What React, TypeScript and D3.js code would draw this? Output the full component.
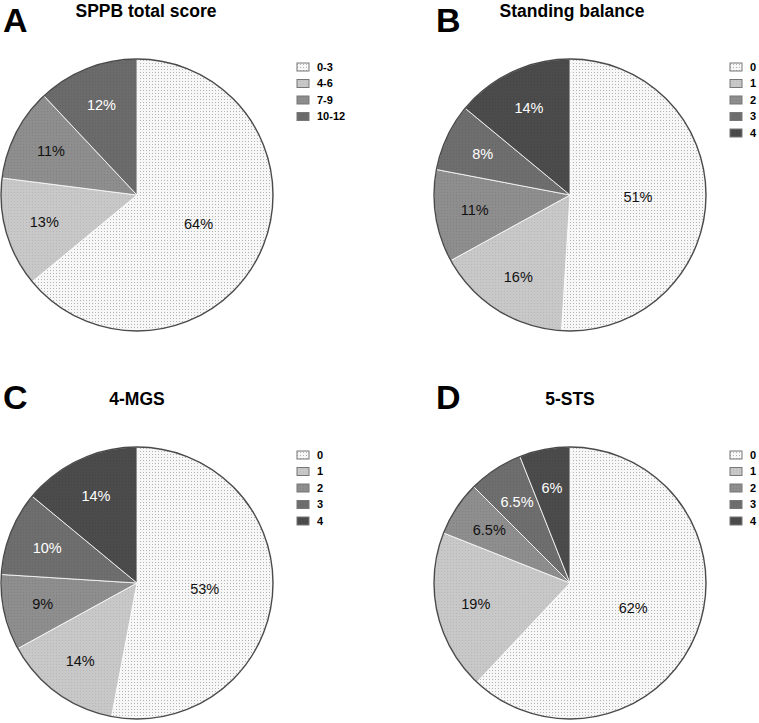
import React from 'react';
import * as d3 from 'd3';

// panel texts
const panelLetters = ['A', 'B', 'C', 'D'];
const panelTitles = ['SPPB total score', 'Standing balance', '4-MGS', '5-STS'];

// categories
const sppbCategories = ['0-3', '4-6', '7-9', '10-12'];
const componentCategories = ['0', '1', '2', '3', '4'];

// percentages (clockwise from 12 o'clock)
const sppbValues = [64, 13, 11, 12];
const balanceValues = [51, 16, 11, 8, 14];
const gaitValues = [53, 14, 9, 10, 14];
const chairValues = [62, 19, 6.5, 6.5, 6];

const sppbColors = ['#f7f7f7', '#c8c8c8', '#8e8e8e', '#6b6b6b'];
const componentColors = ['#f7f7f7', '#c8c8c8', '#8e8e8e', '#6e6e6e', '#4b4b4b'];

const W = 759;
const H = 723;
const R = 136;
const FONT = '"Liberation Sans", Arial, Helvetica, sans-serif';

const panels = [
  { cx: 137, cy: 195, letterY: 32, titleDx: 9, cats: sppbCategories, values: sppbValues, colors: sppbColors },
  { cx: 570, cy: 195, letterY: 32, titleDx: 2, cats: componentCategories, values: balanceValues, colors: componentColors },
  { cx: 137, cy: 583, letterY: 409, titleDx: 0, cats: componentCategories, values: gaitValues, colors: componentColors },
  { cx: 570, cy: 583, letterY: 409, titleDx: 0, cats: componentCategories, values: chairValues, colors: componentColors },
];

const patternId = (c: string) => 'dots' + c.replace('#', '');

const allColors = Array.from(new Set([...sppbColors, ...componentColors]));

const isDark = (c: string) => d3.hsl(c).l < 0.47;

const Panel = ({ idx }: { idx: number }) => {
  const p = panels[idx];
  const pie = d3.pie<number>().sort(null).value((d) => d);
  const arcs = pie(p.values);
  const arc = d3.arc<d3.PieArcDatum<number>>().innerRadius(0).outerRadius(R);
  const bigLabel = d3.arc<d3.PieArcDatum<number>>().innerRadius(R * 0.5).outerRadius(R * 0.5);
  const smallLabel = d3.arc<d3.PieArcDatum<number>>().innerRadius(R * 0.71).outerRadius(R * 0.71);
  const legendY = d3.scaleLinear().domain([0, 1]).range([p.cy - 128, p.cy - 128 + 16.5]);
  const lx = p.cx + R + 24;

  return (
    <g>
      <text x={p.cx - 134} y={p.letterY} fontFamily={FONT} fontWeight="bold" fontSize={34}>
        {panelLetters[idx]}
      </text>
      <text x={p.cx + p.titleDx} y={p.cy - 178} fontFamily={FONT} fontWeight="bold" fontSize={17.5} textAnchor="middle">
        {panelTitles[idx]}
      </text>
      <g transform={`translate(${p.cx},${p.cy})`}>
        {arcs.map((a, i) => (
          <path key={i} d={arc(a) || ''} fill={`url(#${patternId(p.colors[i])})`} stroke="#ffffff" strokeWidth={0.8} />
        ))}
        <circle r={R} fill="none" stroke="#4a4a4a" strokeWidth={1.4} />
        {arcs.map((a, i) => {
          const [x, y] = (i === 0 ? bigLabel : smallLabel).centroid(a);
          return (
            <text key={i} x={x} y={y} dy="0.35em" textAnchor="middle" fontFamily={FONT} fontSize={14.5}
              fill={isDark(p.colors[i]) ? '#ffffff' : '#111111'}>
              {`${a.data}%`}
            </text>
          );
        })}
      </g>
      {p.cats.map((c, i) => (
        <g key={c} transform={`translate(${lx},${legendY(i)})`}>
          <rect x={0} y={-4} width={12} height={8} fill={`url(#${patternId(p.colors[i])})`} stroke="#777" strokeWidth={1} />
          <text x={20} y={0} dy="0.36em" fontFamily={FONT} fontWeight="bold" fontSize={11}>{c}</text>
        </g>
      ))}
    </g>
  );
};

export default function App() {
  return (
    <svg width={W} height={H} style={{ position: 'absolute', left: 0, top: 0, background: '#fff' }}>
      <defs>
        {allColors.map((c) => (
          <pattern key={c} id={patternId(c)} width={3} height={3} patternUnits="userSpaceOnUse">
            <rect width={3} height={3} fill={c} />
            <rect width={1} height={1} fill={d3.color(c)!.darker(c === '#f7f7f7' ? 0.9 : 0.25).toString()} />
          </pattern>
        ))}
      </defs>
      {panels.map((_, i) => <Panel key={i} idx={i} />)}
    </svg>
  );
}
